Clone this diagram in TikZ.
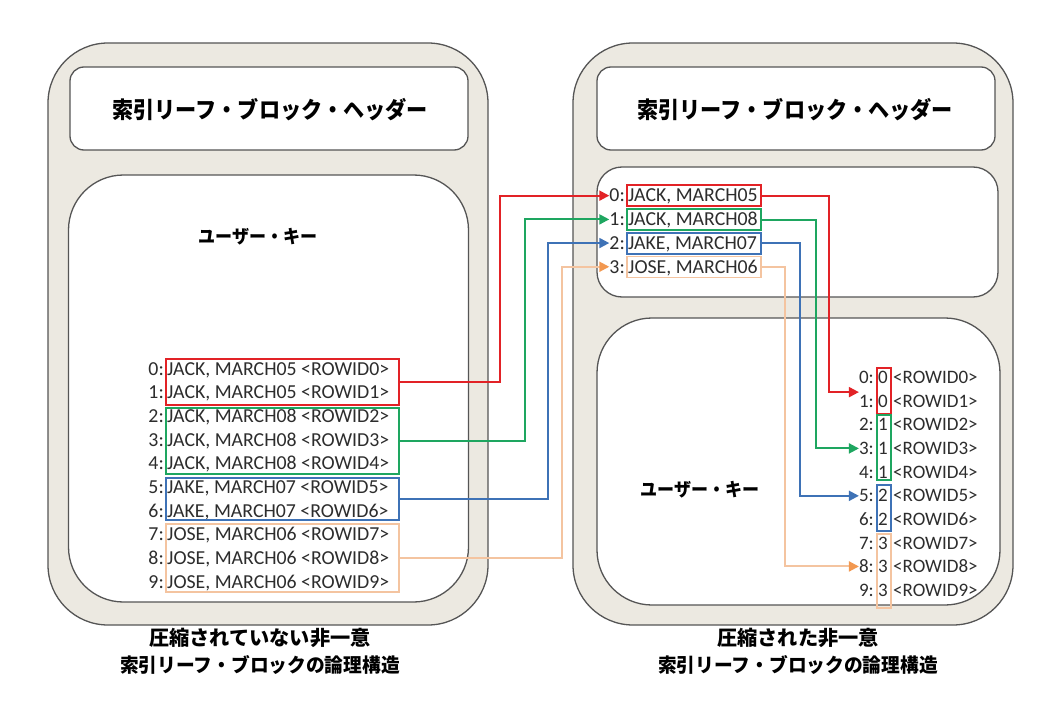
\documentclass[tikz,border=0pt]{standalone}
\usepackage{fontspec}
\setmainfont{Carlito}
\newfontfamily\jp{Noto Sans CJK JP}
\newfontfamily\jpn{Noto Sans CJK JP}[FakeStretch=0.92]
\newfontfamily\jpm{Noto Sans CJK JP}[FakeStretch=0.96]
\usetikzlibrary{arrows.meta}
\definecolor{beige}{RGB}{236,233,225}
\definecolor{edge}{RGB}{85,85,85}
\definecolor{cred}{RGB}{226,34,38}
\definecolor{cgreen}{RGB}{30,166,96}
\definecolor{cblue}{RGB}{62,114,182}
\definecolor{corange}{RGB}{242,152,80}
\definecolor{clight}{RGB}{244,196,160}
\definecolor{txt}{RGB}{45,45,45}
\begin{document}
\begin{tikzpicture}[x=1pt,y=-1pt,
  panel/.style={draw=edge, line width=1.3pt, fill=beige, rounded corners=60pt, inner sep=0pt},
  inbox/.style={draw=edge, line width=1.3pt, fill=white, inner sep=0pt},
  hdr/.style={font=\jpn\bfseries\fontsize{23}{26}\selectfont, text=black},
  ukey/.style={font=\jpn\bfseries\fontsize{18.5}{20}\selectfont, text=black},
  caption/.style={font=\jp\bfseries\fontsize{20.2}{27}\selectfont, text=black, align=center},
  lst/.style={font=\fontsize{19.8}{21}\selectfont, text=txt, inner sep=0pt},
  lsts/.style={font=\fontsize{19}{20}\selectfont, text=txt, inner sep=0pt},
  grp/.style={draw=#1, line width=1.8pt, inner sep=0pt, anchor=north west},
  arr/.style={line width=2pt, -{Triangle[length=10pt,width=10pt]}}
]
\useasboundingbox (0,0) rectangle (1041,722);
% panels
\node[panel, minimum width=440, minimum height=582] (Lpanel) at (268,334) {};
\node[panel, minimum width=440, minimum height=582] (Rpanel) at (793,334) {};
\node[inbox, rounded corners=14pt, minimum width=398, minimum height=83] (Lhbox) at (269,108.5) {};
\node[inbox, rounded corners=55pt, minimum width=400, minimum height=427] (Libox) at (268.5,388.5) {};
\node[inbox, rounded corners=14pt, minimum width=398, minimum height=83] (Rhbox) at (796,108.5) {};
\node[inbox, rounded corners=25pt, minimum width=401, minimum height=130] (Rubox) at (797.5,232) {};
\node[inbox, rounded corners=55pt, minimum width=403, minimum height=287] (Rlbox) at (798.5,461.5) {};
% titles
\node[hdr] (Lhdr) at (270,110) {索引リーフ・ブロック・ヘッダー};
\node[hdr] (Rhdr) at (795,110) {索引リーフ・ブロック・ヘッダー};
\node[ukey] (Lukey) at (258,237) {ユーザー・キー};
\node[ukey] (Rukey) at (700,490) {ユーザー・キー};
\node[caption] (Lcap) at (260,651) {圧縮されていない非一意\\{\jpm\fontsize{19.5}{27}\selectfont 索引リーフ・ブロックの論理構造}};
\node[caption] (Rcap) at (798,651) {圧縮された非一意\\{\jpm\fontsize{19.5}{27}\selectfont 索引リーフ・ブロックの論理構造}};
% left list
\foreach \i/\k in {0/{JACK, MARCH05},1/{JACK, MARCH05},2/{JACK, MARCH08},3/{JACK, MARCH08},4/{JACK, MARCH08},5/{JAKE, MARCH07},6/{JAKE, MARCH07},7/{JOSE, MARCH06},8/{JOSE, MARCH06},9/{JOSE, MARCH06}}{
  \node[lst, anchor=base east] (Li\i) at (164,{375+23.7*\i}) {\i:};
  \node[lst, anchor=base west] (Lt\i) at (167,{375+23.7*\i}) {\k\ <ROWID\i>};
}
% right upper list
\foreach \i/\k in {0/{JACK, MARCH05},1/{JACK, MARCH08},2/{JAKE, MARCH07},3/{JOSE, MARCH06}}{
  \node[lst, anchor=base east] (Ui\i) at (625,{202+23.7*\i}) {\i:};
  \node[lst, anchor=base west] (Ut\i) at (628,{202+23.7*\i}) {\k};
}
% right lower list
\foreach \i/\d in {0/0,1/0,2/1,3/1,4/1,5/2,6/2,7/3,8/3,9/3}{
  \node[lsts, anchor=base east] (Ri\i) at (874,{383.5+23.67*\i}) {\i:};
  \node[lsts, anchor=base] (Rd\i) at (883,{383.5+23.67*\i}) {\d};
  \node[lsts, anchor=base west] (Rt\i) at (893,{383.5+23.67*\i}) {<ROWID\i>};
}
% group boxes
\node[grp=cred, minimum width=233, minimum height=46] (Lred) at (165,358) {};
\node[grp=cgreen, minimum width=233, minimum height=66] (Lgreen) at (165,407) {};
\node[grp=cblue, minimum width=233, minimum height=42] (Lblue) at (165,477) {};
\node[grp=clight, minimum width=233, minimum height=68] (Lorange) at (165,523) {};
\node[grp=cred, minimum width=134, minimum height=21] (Ured) at (626,184.5) {};
\node[grp=cgreen, minimum width=134, minimum height=21] (Ugreen) at (626,208.2) {};
\node[grp=cblue, minimum width=134, minimum height=21] (Ublue) at (626,231.9) {};
\node[grp=clight, minimum width=134, minimum height=21] (Uorange) at (626,255.6) {};
\node[grp=cred, minimum width=14, minimum height=46] (Rred) at (876,367) {};
\node[grp=cgreen, minimum width=14, minimum height=65] (Rgreen) at (876,414) {};
\node[grp=cblue, minimum width=14, minimum height=46] (Rblue) at (876,484) {};
\node[grp=clight, minimum width=14, minimum height=74] (Rorange) at (876,533) {};
% connectors
\draw[arr, cred] (Lred.east) -- ++(100,0) |- (Ui0.west);
\draw[arr, cgreen] (Lgreen.east) -- ++(125,0) |- (Ui1.west);
\draw[arr, cblue] (Lblue.east) -- ++(148,0) |- (Ui2.west);
\draw[arr, clight, -{Triangle[length=10pt,width=10pt,color=corange]}] (Lorange.east) -- ++(162,0) |- (Ui3.west);
\draw[arr, cred] (Ured.east) -- ++(67,0) |- ([yshift=9pt]Ri1.west);
\draw[arr, cgreen] (Ugreen.east) -- ++(54,0) |- (Ri3.west);
\draw[arr, cblue] (Ublue.east) -- ++(38,0) |- (Ri5.west);
\draw[arr, clight, -{Triangle[length=10pt,width=10pt,color=corange]}] (Uorange.east) -- ++(23,0) |- (Ri8.west);
\end{tikzpicture}
\end{document}
